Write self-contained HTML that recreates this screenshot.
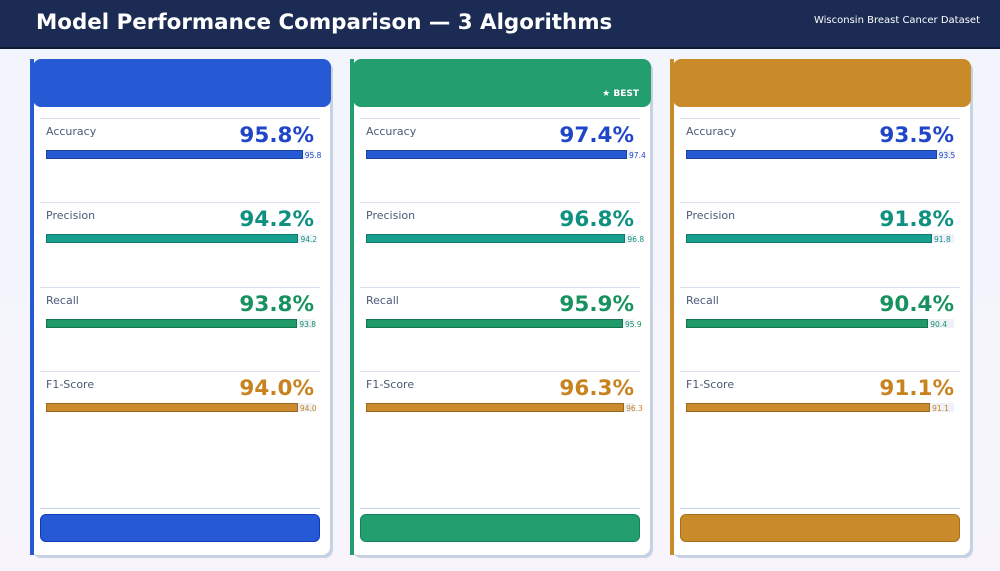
<!DOCTYPE html>
<html><head><meta charset="utf-8"><style>
body{margin:0;width:1000px;height:571px;background:linear-gradient(#f2f5fc,#f7f5fb);font-family:"DejaVu Sans","Liberation Sans",sans-serif;position:relative;overflow:hidden}
#hdr{position:absolute;left:0;top:0;width:1000px;height:47px;background:#1b2b53;border-bottom:2px solid #0e1733}
#title{position:absolute;left:36px;top:10px;color:#fff;font-weight:bold;font-size:21.4px}
#sub{position:absolute;right:20px;top:15px;color:#fff;font-size:10px}
.card{position:absolute;top:59px;width:300px;height:496px;background:#fff;border-radius:8px;box-shadow:3px 3px 0 #c6d2e2}
.lb{position:absolute;left:0;top:0;width:4px;height:496px}
.ch{position:absolute;left:3px;top:0;width:298px;height:48px;border-radius:8px}
.best{position:absolute;right:12px;top:30px;color:#fff;font-size:9px;font-weight:bold}
.sep{position:absolute;left:10px;width:280px;height:1px;background:#d8dfee}
.lab{position:absolute;left:16px;font-size:11px;color:#4a5a78}
.val{position:absolute;right:16px;font-size:21.5px;font-weight:bold}
.track{position:absolute;left:16px;width:268px;height:9px;background:#eef2f8}
.bar{position:absolute;left:0;top:0;height:9px;box-sizing:border-box;border:1px solid rgba(0,0,0,.25)}
.bv{position:absolute;top:1px;font-size:7.5px}
.foot{position:absolute;left:10px;top:455px;width:280px;height:28px;border-radius:6px;box-sizing:border-box;border:1px solid rgba(0,0,0,.3)}
</style></head><body>
<div id="hdr"><div id="title">Model Performance Comparison — 3 Algorithms</div><div id="sub">Wisconsin Breast Cancer Dataset</div></div>
<div id="root"></div>
<script>
const models=["Model A","Model B","Model C"];
const metrics=["Accuracy","Precision","Recall","F1-Score"];
const accuracy=[95.8,97.4,93.5];
const precision=[94.2,96.8,91.8];
const recall=[93.8,95.9,90.4];
const f1=[94.0,96.3,91.1];
const series=[accuracy,precision,recall,f1];
const cardColors=["#2659d4","#239e6e","#c98b2a"];
const footBorders=["#1238c0","#16805a","#a86e18"];
const valColors=["#1f45c8","#0f9080","#17915e","#c8821e"];
const barColors=["#2659d4","#17a090","#1f9a68","#cc8a2e"];
const best=1;
const root=document.getElementById('root');
const xs=v=>v/100*268;
models.forEach((m,i)=>{
 const c=document.createElement('div');c.className='card';c.style.left=(30+i*320)+'px';
 
 
 let h=`<div class="lb" style="background:${cardColors[i]}"></div><div class="ch" style="background:${cardColors[i]}">${i===best?'<div class="best">★ BEST</div>':''}</div>`;
 metrics.forEach((k,j)=>{
  const y=59+j*84.3, v=series[j][i];
  h+=`<div class="sep" style="top:${y}px"></div>
  <div class="lab" style="top:${y+7}px">${k}</div>
  <div class="val" style="top:${y+5}px;color:${valColors[j]}">${v.toFixed(1)}%</div>
  <div class="track" style="top:${y+32}px"><div class="bar" style="width:${xs(v)}px;background:${barColors[j]}"></div><div class="bv" style="left:${xs(v)+2}px;color:${valColors[j]}">${v.toFixed(1)}</div></div>`;
 });
 h+=`<div class="sep" style="top:449px;background:#c3d3ea"></div><div class="foot" style="background:${cardColors[i]};border-color:${footBorders[i]}"></div>`;
 c.innerHTML=h;root.appendChild(c);
});
</script>
</body></html>
